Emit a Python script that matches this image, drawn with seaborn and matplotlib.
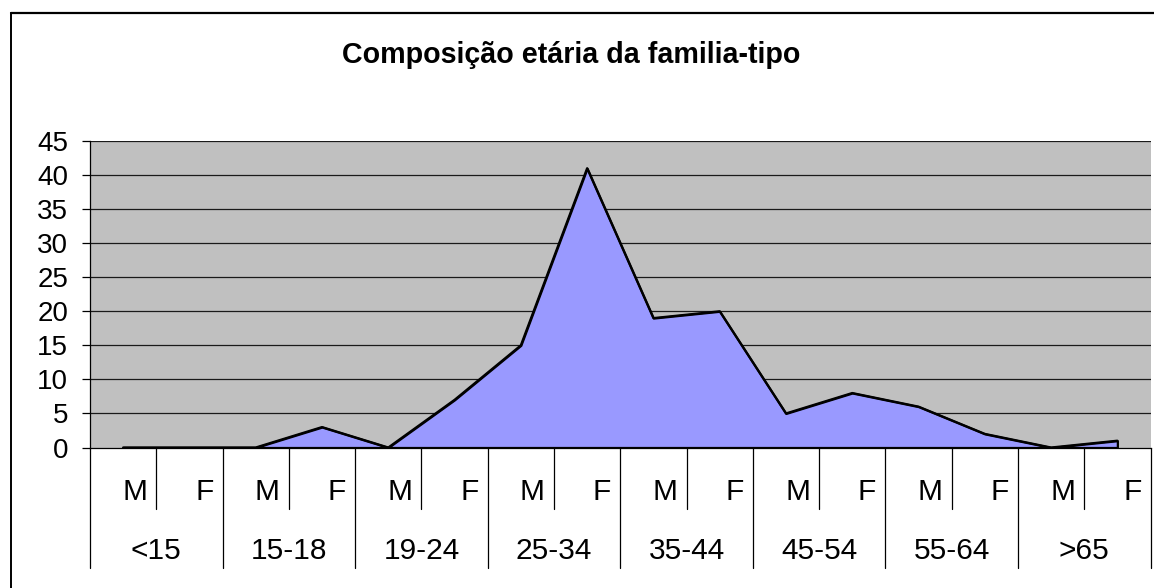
import matplotlib
matplotlib.use("Agg")
import matplotlib.pyplot as plt
import matplotlib.transforms as mtransforms
from matplotlib.lines import Line2D
import seaborn as sns
import pandas as pd

# ---- data ----
age_groups = ["<15", "15-18", "19-24", "25-34", "35-44", "45-54", "55-64", ">65"]
sexes = ["M", "F"]
values = [0, 0, 0, 3, 0, 7, 15, 41, 19, 20, 5, 8, 6, 2, 0, 1]
y_ticks = [0, 5, 10, 15, 20, 25, 30, 35, 40, 45]
title = "Composição etária da familia-tipo"

sns.set_style("white")
plt.rcParams["font.family"] = ["Liberation Sans", "DejaVu Sans"]

W, H = 1154, 588
fig = plt.figure(figsize=(W / 100, H / 100), dpi=100)
fig.patch.set_facecolor("white")

x0, x1, ytop, ybot = 90, 1150.5, 141, 447.5
ax = fig.add_axes([x0 / W, (H - ybot) / H, (x1 - x0) / W, (ybot - ytop) / H])
ax.set_facecolor("#C0C0C0")

labels = [f"{g}|{s}" for g in age_groups for s in sexes]
pos = list(range(len(labels)))
df = pd.DataFrame({"pos": pos, "value": values})

ax.fill_between(df["pos"], df["value"], 0, facecolor="#9999FF",
                edgecolor="black", linewidth=1.6, zorder=3)
sns.lineplot(data=df, x="pos", y="value", color="black", linewidth=1.6,
             ax=ax, zorder=4, legend=False)

ax.set_xlim(-0.5, len(labels) - 0.5)
ax.set_ylim(0, 45)
ax.set_yticks(y_ticks)
ax.set_yticklabels([str(v) for v in y_ticks])
for v in y_ticks[1:]:
    ax.axhline(v, color="#1a1a1a", linewidth=0.9, zorder=1)

ax.set_xticks([])
ax.set_xlabel("")
ax.set_ylabel("")
ax.tick_params(axis="y", length=5.8, width=0.9, pad=10, labelsize=20,
               color="black", labelcolor="black", left=True)
for side in ["top", "right"]:
    ax.spines[side].set_visible(False)
ax.spines["left"].set_color("black")
ax.spines["left"].set_linewidth(0.9)
ax.spines["bottom"].set_color("black")
ax.spines["bottom"].set_linewidth(0.9)
ax.spines["left"].set_zorder(5)
ax.spines["bottom"].set_zorder(5)

# ---- multi-level category axis ----
trans = ax.get_xaxis_transform()
ph = ybot - ytop
y_small = -(509 - ybot) / ph
y_big = -(568 - ybot) / ph
for i in range(len(labels) + 1):
    b = i - 0.5
    yend = y_big if i % 2 == 0 else y_small
    ax.plot([b, b], [0, yend], transform=trans, color="black",
            linewidth=0.9, clip_on=False, zorder=5)

lab_trans = mtransforms.offset_copy(trans, fig=fig, x=-9, y=0, units="dots")
y_row1 = -(500 - ybot) / ph
y_row2 = -(559.3 - ybot) / ph
for i, lab in enumerate(labels):
    g, s = lab.split("|")
    ax.text(i + 0.5, y_row1, s, transform=lab_trans, ha="right",
            va="baseline", fontsize=21.5, color="black", clip_on=False)
for gi, g in enumerate(age_groups):
    ax.text(2 * gi + 0.5, y_row2, g, transform=trans, ha="center",
            va="baseline", fontsize=21.5, color="black", clip_on=False)

# ---- title ----
fig.text(571.6 / W, 1 - 63.3 / H, title, ha="center", va="baseline",
         fontsize=20.6, fontweight="bold", color="black")

# ---- chart frame ----
fig.add_artist(Line2D([11 / W, 11 / W], [0, 1 - 12.5 / H], color="black",
                      linewidth=1.4, transform=fig.transFigure))
fig.add_artist(Line2D([11 / W, 1], [1 - 12.5 / H, 1 - 12.5 / H], color="black",
                      linewidth=1.6, transform=fig.transFigure))

fig.savefig("out.png", dpi=100)
